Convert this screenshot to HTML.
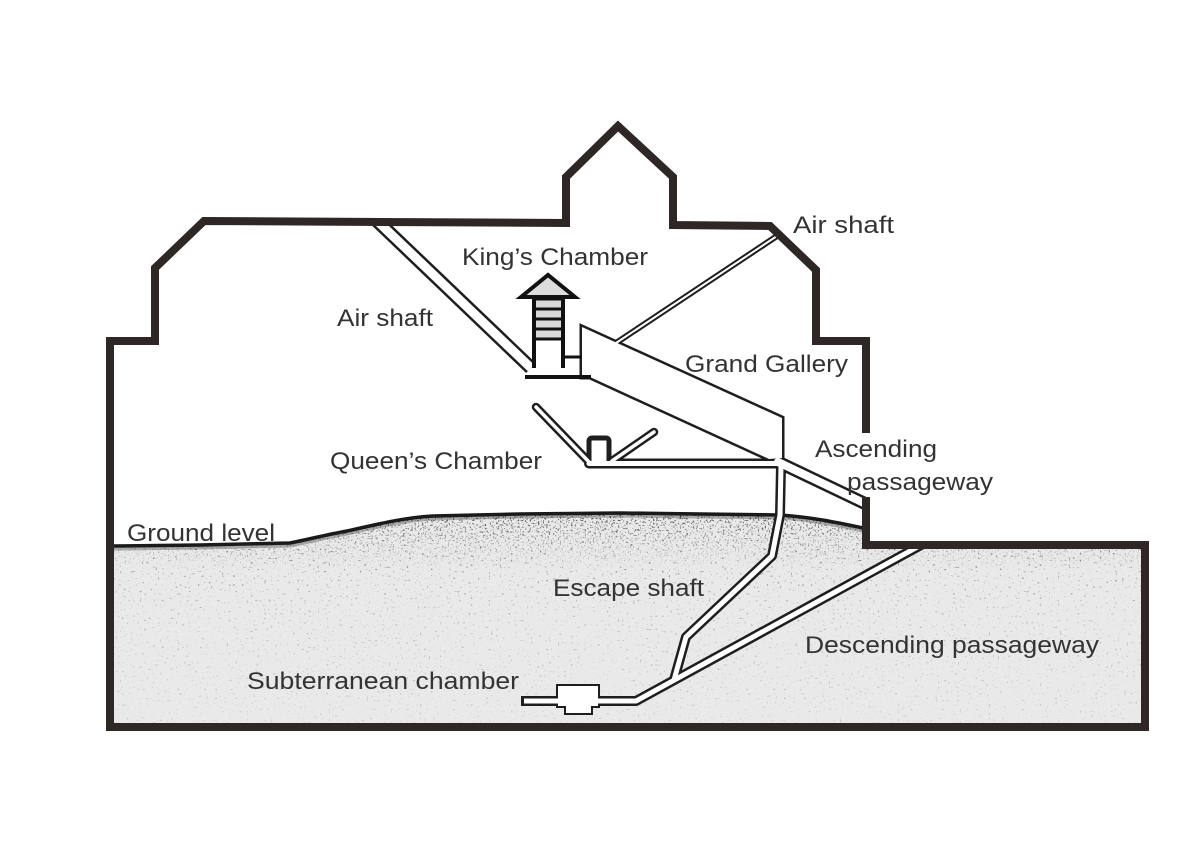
<!DOCTYPE html>
<html>
<head>
<meta charset="utf-8">
<style>
  html,body{margin:0;padding:0;background:#ffffff;}
  body{width:1200px;height:857px;overflow:hidden;}
  svg{display:block;}
  text{font-family:"Liberation Sans",Arial,sans-serif;fill:#333;}
</style>
</head>
<body>
<svg width="1200" height="857" viewBox="0 0 1200 857" xmlns="http://www.w3.org/2000/svg">
  <defs>
    <clipPath id="gc">
      <path d="M114,546 L200,545 L290,543 C310,539 325,535 347,531 C375,525 400,518 433,516 L520,514 L620,513 L700,514 L780,515 C810,517 835,522 866,528 L866,549 L1141,549 L1141,723 L114,723 Z"/>
    </clipPath>
    <clipPath id="topclip">
      <rect x="0" y="221" width="1200" height="700"/>
    </clipPath>
    <clipPath id="boxclip">
      <rect x="0" y="545" width="1200" height="300"/>
    </clipPath>
    <filter id="sp" filterUnits="userSpaceOnUse" x="100" y="500" width="1060" height="240">
      <feTurbulence type="fractalNoise" baseFrequency="0.45" numOctaves="1" seed="11"/>
      <feColorMatrix type="matrix" values="0 0 0 0 0.1  0 0 0 0 0.1  0 0 0 0 0.1  14 0 0 0 -9.4"/>
    </filter>
    <filter id="sp2" filterUnits="userSpaceOnUse" x="100" y="500" width="1060" height="240">
      <feTurbulence type="fractalNoise" baseFrequency="0.6" numOctaves="1" seed="4"/>
      <feColorMatrix type="matrix" values="0 0 0 0 0.05  0 0 0 0 0.05  0 0 0 0 0.05  12 0 0 0 -7.0"/>
    </filter>
    <linearGradient id="fade" gradientUnits="userSpaceOnUse" x1="0" y1="512" x2="0" y2="720">
      <stop offset="0" stop-color="#ffffff"/>
      <stop offset="0.15" stop-color="#aaaaaa"/>
      <stop offset="0.45" stop-color="#555555"/>
      <stop offset="1" stop-color="#333333"/>
    </linearGradient>
    <linearGradient id="fade2" gradientUnits="userSpaceOnUse" x1="0" y1="510" x2="0" y2="570">
      <stop offset="0" stop-color="#ffffff"/>
      <stop offset="0.5" stop-color="#666666"/>
      <stop offset="1" stop-color="#000000"/>
    </linearGradient>
    <mask id="fm" maskUnits="userSpaceOnUse" x="0" y="0" width="1200" height="857">
      <rect x="0" y="0" width="1200" height="857" fill="url(#fade)"/>
    </mask>
    <mask id="fm2" maskUnits="userSpaceOnUse" x="0" y="0" width="1200" height="857">
      <rect x="0" y="0" width="1200" height="857" fill="url(#fade2)"/>
    </mask>
  </defs>

  <rect x="0" y="0" width="1200" height="857" fill="#ffffff"/>

  <!-- Ground fill -->
  <path d="M114,546 L200,545 L290,543 C310,539 325,535 347,531 C375,525 400,518 433,516 L520,514 L620,513 L700,514 L780,515 C810,517 835,522 866,528 L866,549 L1141,549 L1141,723 L114,723 Z" fill="#e9e9e9"/>
  <!-- speckles -->
  <g clip-path="url(#gc)" mask="url(#fm)">
    <rect x="100" y="500" width="1060" height="240" fill="#000" filter="url(#sp)"/>
  </g>
  <g clip-path="url(#gc)" mask="url(#fm2)">
    <rect x="100" y="500" width="1060" height="240" fill="#000" filter="url(#sp2)"/>
  </g>
  <!-- surface edge -->
  <path d="M114,548 L200,547 L290,545 C310,541 325,537 347,533 C375,527 400,520 433,518 L520,516 L620,515 L700,516 L780,517 C810,519 835,524 863,530" fill="none" stroke="#333" stroke-width="5" opacity="0.35"/>
  <path d="M114,546 L200,545 L290,543 C310,539 325,535 347,531 C375,525 400,518 433,516 L520,514 L620,513 L700,514 L780,515 C810,517 835,522 863,528" fill="none" stroke="#1a1a1a" stroke-width="3.5"/>

  <!-- DARK LAYER (passage walls) -->
  <g stroke="#1e1e1e" fill="none">
    <path clip-path="url(#topclip)" d="M372,216 L531,368" stroke-width="14"/>
    <path d="M616,343 L777,236" stroke-width="6" stroke-linecap="round"/>
    <polygon points="582,327 782,418 782,458 769,459 590,377 582,377" stroke-width="5" stroke-linejoin="miter"/>
    <path d="M778,462 L866,504" stroke-width="13" stroke-linecap="butt"/>
    <circle cx="778" cy="462" r="6.5" fill="#1e1e1e" stroke="none"/>
    <path d="M589,463.5 L778,463.5" stroke-width="10" stroke-linecap="round"/>
    <path d="M536,407 L590,463" stroke-width="8.5" stroke-linecap="round"/>
    <path d="M612,461 L654,432" stroke-width="8.5" stroke-linecap="round"/>
    <rect x="589" y="438" width="20" height="26" rx="3" stroke-width="5"/>
    <path d="M781,466 L780,515 L772,556 L686,637 L674,680" stroke-width="10" stroke-linecap="round" stroke-linejoin="round"/>
    <path clip-path="url(#boxclip)" d="M932,539 L636,701 L521,701" stroke-width="10" stroke-linejoin="round"/>
    <polygon points="558,686 598,686 598,706 591,706 591,713 566,713 566,706 558,706" stroke-width="4"/>
  </g>

  <!-- WHITE LAYER (passage interiors) -->
  <g stroke="#ffffff" fill="none">
    <path clip-path="url(#topclip)" d="M372,216 L531,368" stroke-width="9"/>
    <path d="M616,343 L777,236" stroke-width="2" stroke-linecap="round"/>
    <polygon points="582,327 782,418 782,458 769,459 590,377 582,377" fill="#ffffff" stroke="none"/>
    <path d="M778,462 L866,504" stroke-width="8" stroke-linecap="butt"/>
    <circle cx="778" cy="462" r="4" fill="#ffffff" stroke="none"/>
    <path d="M589,463.5 L778,463.5" stroke-width="5" stroke-linecap="round"/>
    <path d="M536,407 L590,463" stroke-width="3.5" stroke-linecap="round"/>
    <path d="M612,461 L654,432" stroke-width="3.5" stroke-linecap="round"/>
    <rect x="591.5" y="440.5" width="15" height="24" rx="2" fill="#ffffff" stroke="none"/>
    <path d="M781,466 L780,515 L772,556 L686,637 L674,680" stroke-width="5" stroke-linecap="round" stroke-linejoin="round"/>
    <path clip-path="url(#boxclip)" d="M932,539 L636,701 L524,701" stroke-width="5" stroke-linejoin="round"/>
    <polygon points="558,686 598,686 598,706 591,706 591,713 566,713 566,706 558,706" fill="#ffffff" stroke="none"/>
  </g>
  <rect x="589" y="461" width="3" height="5" fill="#ffffff"/>

  <!-- King's chamber details -->
  <rect x="534" y="297" width="29" height="43" fill="#d9d9d9"/>
  <polygon points="521,297 548,275 575,297" fill="#dcdcdc" stroke="#111" stroke-width="4" stroke-linejoin="miter"/>
  <g stroke="#111" stroke-width="3">
    <line x1="534" y1="299" x2="563" y2="299"/>
    <line x1="534" y1="309" x2="563" y2="309"/>
    <line x1="534" y1="319" x2="563" y2="319"/>
    <line x1="534" y1="329" x2="563" y2="329"/>
    <line x1="534" y1="339" x2="563" y2="339"/>
    <line x1="563" y1="357" x2="582" y2="357"/>
  </g>
  <g stroke="#111" stroke-width="4">
    <line x1="534" y1="295" x2="534" y2="368"/>
    <line x1="563" y1="295" x2="563" y2="368"/>
    <line x1="525" y1="377" x2="591" y2="377"/>
  </g>

  <!-- Outline -->
  <path d="M866,433 L866,341 L816,341 L816,270 L770,226 L673,225 L673,177 L618,126 L566,177 L566,223 L204,221 L155,268 L155,341 L110,341 L110,727 L1145,727 L1145,545 L866,545 L866,497"
        fill="none" stroke="#2e2725" stroke-width="8" stroke-linejoin="miter" stroke-miterlimit="4"/>

  <!-- Labels -->
  <g font-size="24">
    <text x="462" y="265" textLength="186" lengthAdjust="spacingAndGlyphs">King’s Chamber</text>
    <text x="337" y="326" textLength="96" lengthAdjust="spacingAndGlyphs">Air shaft</text>
    <text x="793" y="233" textLength="101" lengthAdjust="spacingAndGlyphs">Air  shaft</text>
    <text x="685" y="372" textLength="163" lengthAdjust="spacingAndGlyphs">Grand Gallery</text>
    <text x="330" y="469" textLength="212" lengthAdjust="spacingAndGlyphs">Queen’s Chamber</text>
    <text x="815" y="457" textLength="122" lengthAdjust="spacingAndGlyphs">Ascending</text>
    <text x="847" y="490" textLength="146" lengthAdjust="spacingAndGlyphs">passageway</text>
    <text x="127" y="541" textLength="148" lengthAdjust="spacingAndGlyphs">Ground level</text>
    <text x="553" y="596" textLength="151" lengthAdjust="spacingAndGlyphs">Escape shaft</text>
    <text x="805" y="653" textLength="294" lengthAdjust="spacingAndGlyphs">Descending passageway</text>
    <text x="247" y="689" textLength="272" lengthAdjust="spacingAndGlyphs">Subterranean chamber</text>
  </g>
</svg>
</body>
</html>
